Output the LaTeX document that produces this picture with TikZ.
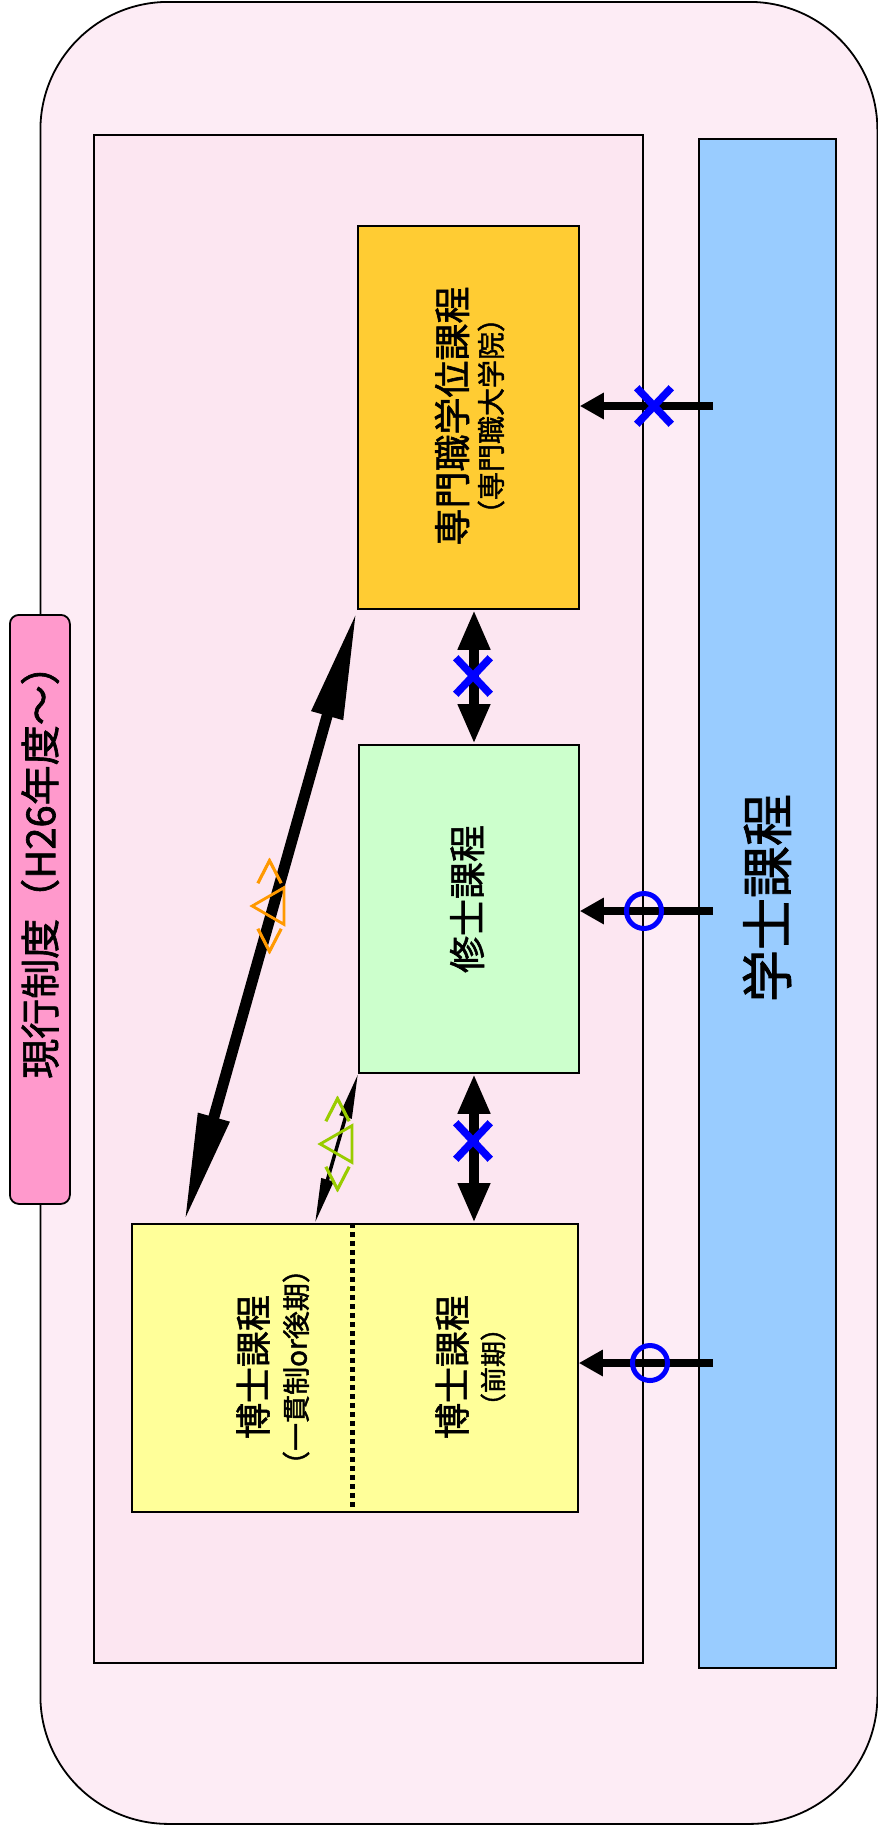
\documentclass[tikz,border=0pt]{standalone}
\usepackage{fontspec}
\setmainfont{Noto Sans CJK JP}[FakeBold=1.6]
\newfontfamily\trifont{Noto Sans CJK JP}[FakeBold=3]
\usetikzlibrary{arrows.meta,calc,shapes.misc}
\definecolor{outerpink}{HTML}{FDECF5}
\definecolor{innerpink}{HTML}{FCE6F1}
\definecolor{labelpink}{HTML}{FF99CC}
\definecolor{orangebox}{HTML}{FFCC33}
\definecolor{greenbox}{HTML}{CCFFCC}
\definecolor{yellowbox}{HTML}{FFFF99}
\definecolor{bluebox}{HTML}{99CCFF}
\definecolor{markblue}{HTML}{0000FF}
\definecolor{lblorange}{HTML}{FF9900}
\definecolor{lblgreen}{HTML}{99CC00}
\newcommand\myfs[1]{\fontsize{#1}{#1}\selectfont}
\newcommand\trilabel{＜\kern-2pt\raisebox{-3.8pt}{\myfs{42}△}\kern-2pt＞}
\begin{document}
\begin{tikzpicture}[x=1pt,y=-1pt,
  box/.style={draw=black, line width=1.8pt, inner sep=0pt, anchor=north west},
  vtext/.style={rotate=90, inner sep=0pt, text=black},
  harrow/.style={line width=8pt, -{Triangle[length=24pt,width=25pt]}},
  varrow/.style={line width=10pt, {Triangle[length=40pt,width=30pt]}-{Triangle[length=40pt,width=30pt]}},
  longarrow/.style={line width=11pt, {Triangle[length=110pt,width=30pt]}-{Triangle[length=110pt,width=30pt]}},
  thinarrow/.style={line width=3.5pt, {Triangle[length=45pt,width=12pt]}-{Triangle[length=45pt,width=12pt]}},
  xmark/.style={draw=markblue, cross out, line width=7.5pt, minimum width=27pt, minimum height=29pt, inner sep=0pt},
  omark/.style={draw=markblue, circle, line width=5pt, minimum size=35pt, inner sep=0pt},
  tri/.style={rotate=90, inner sep=0pt, font=\trifont\myfs{32}}
]
\useasboundingbox (0,0) rectangle (878,1831);
% outer frame
\node[box, fill=outerpink, rounded corners=128pt, minimum width=837pt, minimum height=1822pt] (outer) at (39.5,1) {};
% inner frame
\node[box, fill=innerpink, line width=1.5pt, minimum width=549pt, minimum height=1528pt] (inner) at (93,134) {};
% bachelor
\node[box, fill=bluebox, minimum width=137pt, minimum height=1529pt] (bach) at (698,138) {};
\node[vtext, font=\myfs{52}] (bachtxt) at (767,898) {学士課程};
% period label
\node[box, fill=labelpink, rounded corners=9pt, minimum width=60pt, minimum height=589pt] (period) at (9,614) {};
\node[vtext, font=\myfs{40}] (periodtxt) at (40,862) {現行制度（H26年度～）};
% professional
\node[box, fill=orangebox, minimum width=221pt, minimum height=383pt] (prof) at (357,225) {};
\node[vtext, font=\myfs{37}] (proftxt) at (452,416) {専門職学位課程};
\node[vtext, font=\myfs{28}] (profsub) at (491,416) {（専門職大学院）};
% master
\node[box, fill=greenbox, minimum width=220pt, minimum height=328pt] (mast) at (358,744) {};
\node[vtext, font=\myfs{37}] (masttxt) at (467,899) {修士課程};
% doctor
\node[box, fill=yellowbox, minimum width=446pt, minimum height=288pt] (doc) at (131,1223) {};
\coordinate (dotx) at (352,0);
\draw[line width=5pt, dash pattern=on 5pt off 4pt] (doc.north -| dotx) -- (doc.south -| dotx);
\node[vtext, font=\myfs{36}] (doctxt) at (253,1367) {博士課程};
\node[vtext, font=\myfs{28}] (docsub) at (296,1367) {（一貫制or後期）};
\node[vtext, font=\myfs{36}] (doc2txt) at (452,1367) {博士課程};
\node[vtext, font=\myfs{26}] (doc2sub) at (493,1367) {（前期）};
% horizontal arrows from bachelor
\coordinate (h1) at (713,406);
\coordinate (h2) at (713,911);
\coordinate (h3) at (713,1363);
\draw[harrow] (h1) -- (h1 -| prof.east);
\draw[harrow] (h2) -- (h2 -| mast.east);
\draw[harrow] (h3) -- (h3 -| doc.east);
\node[xmark] (m1) at (654,406) {};
\node[omark] (m2) at (644,911) {};
\node[omark] (m3) at (650,1363) {};
% vertical double arrows
\coordinate (vx) at (474,0);
\draw[varrow] (prof.south -| vx) -- (mast.north -| vx);
\draw[varrow] (mast.south -| vx) -- (doc.north -| vx);
\node[xmark] (m4) at (473,676) {};
\node[xmark] (m5) at (473,1141) {};
% diagonal arrows
\coordinate (lx) at (184,0);
\coordinate (tx) at (315,0);
\draw[longarrow] (doc.north -| lx) -- (prof.south west);
\draw[thinarrow] (doc.north -| tx) -- (mast.south west);
\node[tri, text=lblorange] (tri1) at (268,906) {\trilabel};
\node[tri, text=lblgreen] (tri2) at (336,1144) {\trilabel};
\end{tikzpicture}
\end{document}
